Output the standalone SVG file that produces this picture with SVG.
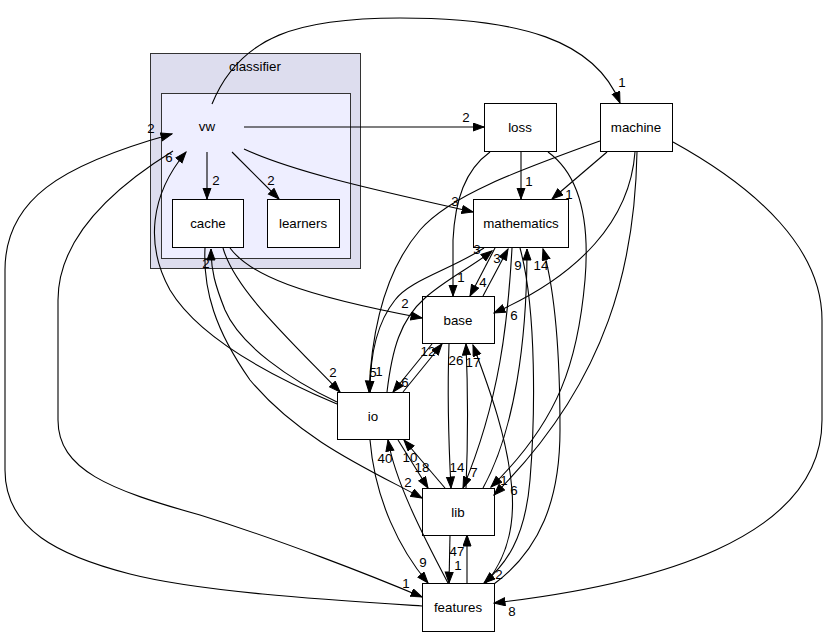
<svg xmlns="http://www.w3.org/2000/svg" width="828" height="637" viewBox="0 0 828 637">
<style>
text{font-family:"Liberation Sans",Arial,sans-serif;font-size:13.33px;fill:#000;text-anchor:middle}
.node rect{fill:#fff;stroke:#000;stroke-width:1}
#edges path{fill:none;stroke:#000;stroke-width:1.1;marker-end:url(#ah)}
</style>
<defs>
<marker id="ah" markerUnits="userSpaceOnUse" markerWidth="13" markerHeight="10" refX="11.5" refY="4.5" orient="auto">
<path d="M0.5,0.5 L11.5,4.5 L0.5,8.5 z" fill="#000" stroke="#000" stroke-width="1"/>
</marker>
</defs>
<rect width="828" height="637" fill="#fff"/>
<g id="classifier">
<rect x="150.5" y="53.5" width="210" height="215" fill="#ddddee" stroke="#333" stroke-width="1"/>
<text x="255" y="71">classifier</text>
</g>
<g id="vw">
<rect x="161.5" y="93.5" width="189" height="165" fill="#eeeeff" stroke="#333" stroke-width="1"/>
<text x="207" y="131">vw</text>
</g>
<g id="cache" class="node"><rect x="172.5" y="199.5" width="71" height="48"/><text x="208" y="228">cache</text></g>
<g id="learners" class="node"><rect x="267.5" y="199.5" width="72" height="48"/><text x="303" y="228">learners</text></g>
<g id="loss" class="node"><rect x="484.5" y="103.5" width="72" height="48"/><text x="520" y="132">loss</text></g>
<g id="machine" class="node"><rect x="600.5" y="103.5" width="72" height="48"/><text x="636" y="132">machine</text></g>
<g id="mathematics" class="node"><rect x="473.5" y="199.5" width="95" height="48"/><text x="521" y="228">mathematics</text></g>
<g id="base" class="node"><rect x="422.5" y="296.5" width="72" height="47"/><text x="458" y="325">base</text></g>
<g id="io" class="node"><rect x="337.5" y="392.5" width="72" height="47"/><text x="373" y="421">io</text></g>
<g id="lib" class="node"><rect x="422.5" y="488.5" width="72" height="47"/><text x="458" y="517">lib</text></g>
<g id="features" class="node"><rect x="422.5" y="583.5" width="72" height="48"/><text x="458" y="612">features</text></g>
<g id="edges">
<path d="M212,104 C240,35 300,18 400,18 C520,18 595,40 620,103"/>
<path d="M244,127 L484,127"/>
<path d="M244,149 C300,175 400,195 473,212"/>
<path d="M207,152 L207,199"/>
<path d="M232,152 L279,199"/>
<path d="M422,606 C330,600 200,592 130,574 C60,556 5,530 5,470 L5,270 C5,200 60,165 172,134"/>
<path d="M173,151 C110,190 58,240 58,300 L58,420 C58,470 110,490 200,515 C280,540 370,575 422,597"/>
<path d="M337,404 C280,380 200,340 170,290 C145,245 150,195 186,152"/>
<path d="M205,248 C203,290 215,330 250,380 C300,440 370,470 422,498"/>
<path d="M337,402 C290,380 240,345 225,310 C215,285 211,270 211,249"/>
<path d="M223,248 C235,290 290,340 340,392"/>
<path d="M230,248 C250,275 300,295 422,318"/>
<path d="M490,152 C465,170 455,200 453,240 L453,296"/>
<path d="M521,152 L521,199"/>
<path d="M548,152 C580,175 590,220 585,280 C578,360 560,420 491,487"/>
<path d="M607,152 L552,199"/>
<path d="M635,152 C630,220 580,275 494,313"/>
<path d="M637,152 C635,260 610,380 494,495"/>
<path d="M673,142 C760,190 822,250 822,320 L822,420 C822,540 650,585 494,603"/>
<path d="M600,141 C520,170 450,195 420,230 C390,265 372,320 369,392"/>
<path d="M387,392 C392,350 400,320 425,298 C445,280 470,268 492,251"/>
<path d="M484,248 C450,270 410,280 395,300 C375,325 370,360 370,392"/>
<path d="M495,248 L470,296"/>
<path d="M483,296 L508,249"/>
<path d="M403,392 L442,344"/>
<path d="M432,344 L393,392"/>
<path d="M449,344 C447,400 449,450 451,488"/>
<path d="M466,488 C468,440 468,390 466,344"/>
<path d="M486,583 C505,560 515,530 512,490 C508,440 490,390 473,345"/>
<path d="M512,248 C508,320 500,400 463,488"/>
<path d="M483,488 C515,430 527,340 527,249"/>
<path d="M520,248 C537,310 535,420 530,480 C525,540 505,565 484,583"/>
<path d="M494,584 C540,550 560,500 560,430 C560,350 555,290 543,249"/>
<path d="M398,440 L428,488"/>
<path d="M445,488 L404,440"/>
<path d="M370,440 C375,500 400,550 428,583"/>
<path d="M448,583 C420,530 395,480 388,440"/>
<path d="M450,535 L449,583"/>
<path d="M467,583 L467,535"/>
</g>
<g id="edge-labels">
<text x="622" y="87">1</text>
<text x="466" y="122">2</text>
<text x="455" y="206">3</text>
<text x="216" y="185">2</text>
<text x="271" y="185">2</text>
<text x="151" y="133">2</text>
<text x="406" y="588">1</text>
<text x="169" y="162">6</text>
<text x="408" y="487">2</text>
<text x="206" y="268">2</text>
<text x="333" y="377">2</text>
<text x="405" y="308">2</text>
<text x="461" y="282">1</text>
<text x="529" y="186">1</text>
<text x="504" y="485">1</text>
<text x="569" y="199">1</text>
<text x="514" y="320">6</text>
<text x="514" y="495">6</text>
<text x="512" y="616">8</text>
<text x="379" y="376">1</text>
<text x="477" y="254">3</text>
<text x="373" y="377">5</text>
<text x="483" y="287">4</text>
<text x="497" y="263">3</text>
<text x="428" y="356">12</text>
<text x="405" y="387">6</text>
<text x="457" y="472">14</text>
<text x="456" y="365">26</text>
<text x="473" y="367">17</text>
<text x="474" y="477">7</text>
<text x="518" y="270">9</text>
<text x="499" y="579">2</text>
<text x="541" y="270">14</text>
<text x="422" y="472">18</text>
<text x="410" y="462">10</text>
<text x="423" y="567">9</text>
<text x="385" y="463">40</text>
<text x="458" y="570">1</text>
<text x="457" y="556">47</text>
</g>
</svg>
